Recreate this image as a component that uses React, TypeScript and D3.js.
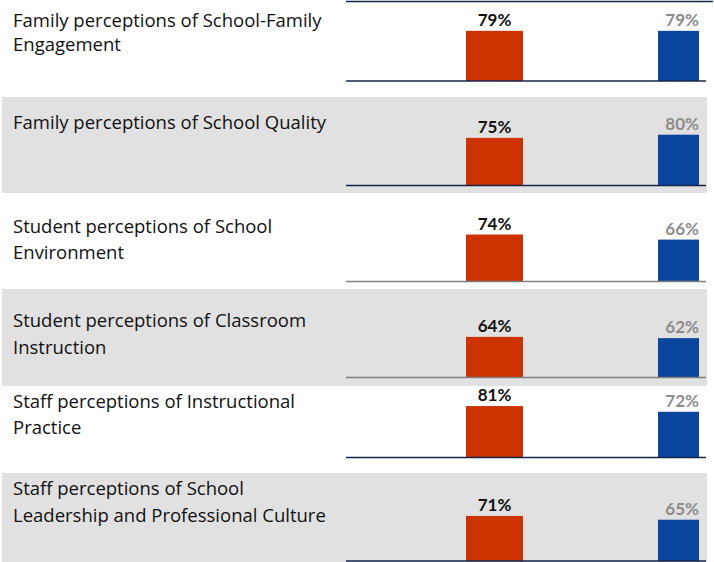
import React from "react";
import * as d3 from "d3";

// ---- data ----
const categories: string[][] = [
  ["Family perceptions of School-Family", "Engagement"],
  ["Family perceptions of School Quality"],
  ["Student perceptions of School", "Environment"],
  ["Student perceptions of Classroom", "Instruction"],
  ["Staff perceptions of Instructional", "Practice"],
  ["Staff perceptions of School", "Leadership and Professional Culture"],
];
const schoolValues: number[] = [79, 75, 74, 64, 81, 71];
const comparisonValues: number[] = [79, 80, 66, 62, 72, 65];

// ---- layout ----
const W = 714;
const H = 562;
const rowBounds = [0, 97, 193, 289, 386, 473, 562];
const baselineY = [81, 185.5, 281.5, 377.5, 457.5, 561];
const labelBaselines = [[26.5, 51], [128.5], [233, 258.5], [327, 354], [408, 434], [495, 521.5]];
const shaded = [false, true, false, true, false, true];
const darkLine = [true, true, false, false, true, true];

const LABEL_FONT = "'Open Sans', 'Noto Sans', 'DejaVu Sans', sans-serif";
const VALUE_FONT = "Lato, 'Open Sans', 'DejaVu Sans', sans-serif";

export default function App() {
  const h = d3.scaleLinear().domain([0, 100]).range([0, 63.5]);
  const series = [
    { values: schoolValues, x0: 466, x1: 523, color: "#CC3300", labelColor: "#111111", anchor: "middle" },
    { values: comparisonValues, x0: 658, x1: 699, color: "#0B469E", labelColor: "#8C8C8C", anchor: "end" },
  ];
  return (
    <div style={{ position: "absolute", left: 0, top: 0 }}>
      <svg width={W} height={H} style={{ display: "block" }}>
        <rect x={0} y={0} width={W} height={H} fill="#ffffff" />
        {categories.map((lines, i) =>
          shaded[i] ? (
            <rect key={"bg" + i} x={2} y={rowBounds[i]} width={705} height={rowBounds[i + 1] - rowBounds[i]} fill="#E1E1E1" />
          ) : null
        )}
        <line x1={346} x2={713} y1={1.5} y2={1.5} stroke="#14244A" strokeWidth={1.5} />
        {categories.map((lines, i) => (
          <g key={"row" + i}>
            {lines.map((t, j) => (
              <text key={j} x={13} y={labelBaselines[i][j]} fontSize={18.5} fill="#111111" fontFamily={LABEL_FONT}>
                {t}
              </text>
            ))}
            {series.map((s, k) => {
              const v = s.values[i];
              const top = baselineY[i] - h(v);
              return (
                <g key={k}>
                  <rect x={s.x0} y={top} width={s.x1 - s.x0} height={h(v)} fill={s.color} />
                  <text
                    x={s.anchor === "middle" ? (s.x0 + s.x1) / 2 : s.x1}
                    y={top - 5}
                    textAnchor={s.anchor}
                    fontSize={17}
                    fontWeight="bold"
                    fill={s.labelColor}
                    fontFamily={VALUE_FONT}
                  >
                    {v + "%"}
                  </text>
                </g>
              );
            })}
            <line
              x1={346}
              x2={706}
              y1={baselineY[i]}
              y2={baselineY[i]}
              stroke={darkLine[i] ? "#14244A" : "#7F7F7F"}
              strokeWidth={1.5}
            />
          </g>
        ))}
      </svg>
    </div>
  );
}
